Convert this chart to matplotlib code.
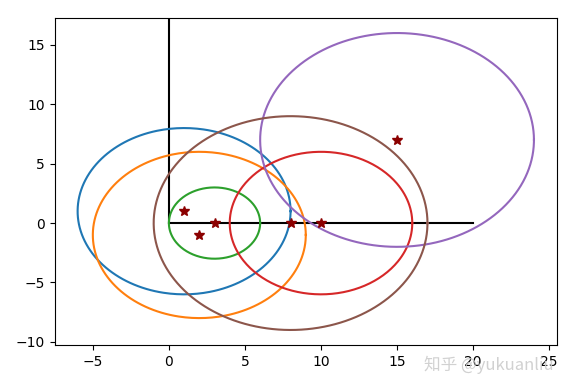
import numpy as np
import matplotlib.pyplot as plt

# circle centres and radii (colour order C0..C5)
centers_x = [1, 2, 3, 10, 15, 8]
centers_y = [1, -1, 0, 0, 7, 0]
radii = [7, 7, 3, 6, 9, 9]

# star points
pts_x = [1, 2, 3, 8, 10, 15]
pts_y = [1, -1, 0, 0, 0, 7]

# axis guide lines
hline_x = [0, 20]
hline_y = [0, 0]
vline_x = [0, 0]
vline_y = [0, 20]

fig = plt.figure(figsize=(5.83, 3.87), dpi=100)
ax = fig.add_axes([0.094, 0.109, 0.861, 0.844])

ax.plot(hline_x, hline_y, color='black', linewidth=1.5)
ax.plot(vline_x, vline_y, color='black', linewidth=1.5)

theta = np.linspace(0, 2 * np.pi, 300)
for i, (cx, cy, r) in enumerate(zip(centers_x, centers_y, radii)):
    ax.plot(cx + r * np.cos(theta), cy + r * np.sin(theta), color=f'C{i}', linewidth=1.5)

ax.plot(pts_x, pts_y, '*', color='darkred', markersize=7)

# default 5% margins around the circles
xmin = min(c - r for c, r in zip(centers_x, radii))
xmax = max(c + r for c, r in zip(centers_x, radii))
ymin = min(c - r for c, r in zip(centers_y, radii))
ymax = max(c + r for c, r in zip(centers_y, radii))
ax.set_xlim(xmin - 0.05 * (xmax - xmin), xmax + 0.05 * (xmax - xmin))
ax.set_ylim(ymin - 0.05 * (ymax - ymin), ymax + 0.05 * (ymax - ymin))
ax.set_xticks([-5, 0, 5, 10, 15, 20, 25])
ax.set_yticks([-10, -5, 0, 5, 10, 15])

fig.text(0.728, 0.058, '知乎 @yukuanliu', fontsize=12, color='#cccccc', alpha=0.9,
         family=['Noto Sans CJK SC', 'DejaVu Sans'], va='center')

fig.savefig('out.png', dpi=100)
